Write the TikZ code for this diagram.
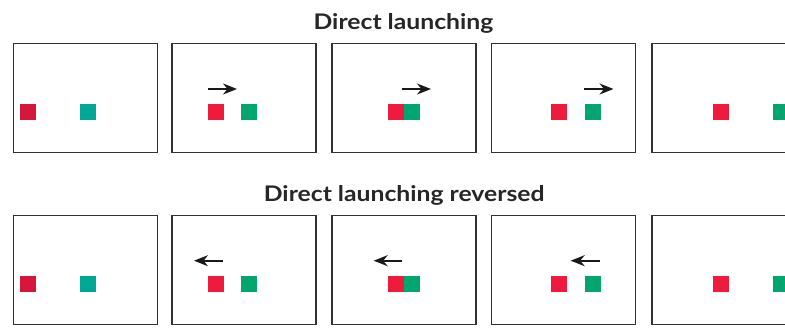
\documentclass[tikz,border=0pt]{standalone}
\usepackage{fontspec}
\setmainfont{Lato}
\newfontfamily\titlefont{Lato}[FakeStretch=1.15]
\usetikzlibrary{arrows.meta}

\definecolor{startred}{HTML}{D4173A}
\definecolor{startteal}{HTML}{00A794}
\definecolor{ballred}{HTML}{EE1B3D}
\definecolor{ballgreen}{HTML}{00A66E}

\begin{document}
\begin{tikzpicture}[
    x=1pt, y=-1pt,
    frame/.style={rectangle, draw=black!80, line width=1.3pt, minimum width=144pt, minimum height=109pt, inner sep=0pt},
    square/.style={rectangle, minimum size=16pt, inner sep=0pt},
    title/.style={font=\titlefont\fontsize{21.5}{24}\selectfont\bfseries, text=black!85, anchor=base},
    motion/.style={-{Stealth[length=14pt,width=11pt,inset=4.5pt]}, line width=1.6pt, black!90}
]
\useasboundingbox (0,0) rectangle (785,327);
\clip (0,0) rectangle (785,327);

% top row
\node[title] (top) at (403.5,29) {Direct launching};

\node[frame] (t1) at (85.3,98) {};
\node[frame] (t2) at (244,98) {};
\node[frame] (t3) at (404,98) {};
\node[frame] (t4) at (563.8,98) {};
\node[frame] (t5) at (724,98) {};

\node[square, fill=startred] (t1r) at (28,112) {};
\node[square, fill=startteal] (t1g) at (88,112) {};
\node[square, fill=ballred] (t2r) at (216,112) {};
\node[square, fill=ballgreen] (t2g) at (249,112) {};
\node[square, fill=ballred] (t3r) at (395.8,112) {};
\node[square, fill=ballgreen] (t3g) at (411.6,112) {};
\node[square, fill=ballred] (t4r) at (559,112) {};
\node[square, fill=ballgreen] (t4g) at (593,112) {};
\node[square, fill=ballred] (t5r) at (721,112) {};
\node[square, fill=ballgreen] (t5g) at (781,112) {};

\coordinate (t2a) at (208.3,89);
\coordinate (t2b) at (237,89);
\coordinate (t3a) at (401.7,89);
\coordinate (t3b) at (431,89);
\coordinate (t4a) at (584.3,89);
\coordinate (t4b) at (613.5,89);
\draw[motion] (t2a) -- (t2b);
\draw[motion] (t3a) -- (t3b);
\draw[motion] (t4a) -- (t4b);

% bottom row
\node[title] (bot) at (404.2,201.7) {Direct launching reversed};

\node[frame] (b1) at (85.3,270.2) {};
\node[frame] (b2) at (244,270.2) {};
\node[frame] (b3) at (404,270.2) {};
\node[frame] (b4) at (563.8,270.2) {};
\node[frame] (b5) at (724,270.2) {};

\node[square, fill=startred] (b1r) at (28,284) {};
\node[square, fill=startteal] (b1g) at (88,284) {};
\node[square, fill=ballred] (b2r) at (216,284) {};
\node[square, fill=ballgreen] (b2g) at (249,284) {};
\node[square, fill=ballred] (b3r) at (395.8,284) {};
\node[square, fill=ballgreen] (b3g) at (411.6,284) {};
\node[square, fill=ballred] (b4r) at (559,284) {};
\node[square, fill=ballgreen] (b4g) at (593,284) {};
\node[square, fill=ballred] (b5r) at (721,284) {};
\node[square, fill=ballgreen] (b5g) at (781,284) {};

\coordinate (b2a) at (222.7,260.7);
\coordinate (b2b) at (194,260.7);
\coordinate (b3a) at (402.3,260.7);
\coordinate (b3b) at (373.7,260.7);
\coordinate (b4a) at (600,260.7);
\coordinate (b4b) at (570.7,260.7);
\draw[motion] (b2a) -- (b2b);
\draw[motion] (b3a) -- (b3b);
\draw[motion] (b4a) -- (b4b);

\end{tikzpicture}
\end{document}
